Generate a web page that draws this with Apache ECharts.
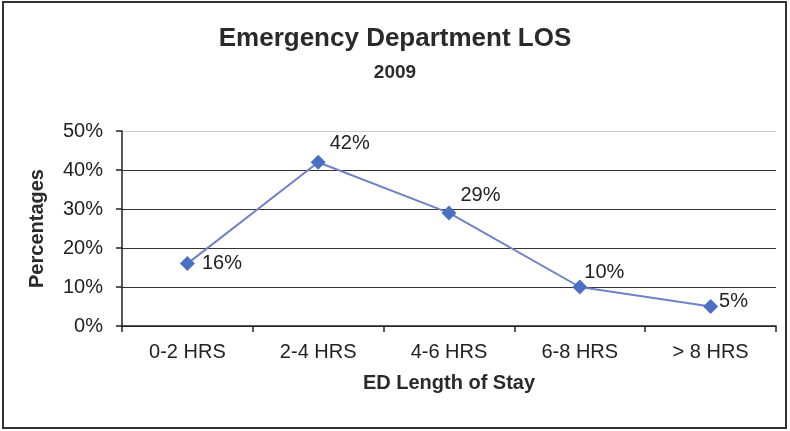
<!DOCTYPE html>
<html>
<head>
<meta charset="utf-8">
<script src="https://cdn.jsdelivr.net/npm/echarts@6/dist/echarts.min.js"></script>
<style>
  html, body { margin: 0; padding: 0; background: #fff; }
  #chart { width: 790px; height: 431px; }
</style>
</head>
<body>
<div id="chart"></div>
<script>
const categories = ['0-2 HRS', '2-4 HRS', '4-6 HRS', '6-8 HRS', '> 8 HRS'];
const losPercent = [16, 42, 29, 10, 5];
// label nudges, to sit the percent labels where the original puts them
const labelOffsets = [[2, 0], [-1, -19], [-1, -17], [-8, -15], [-4, -5]];

const chart = echarts.init(document.getElementById('chart'));
const font = 'Liberation Sans, Arial, sans-serif';

const option = {
    backgroundColor: '#fff',
    textStyle: { fontFamily: font },
    title: [
        {
            text: 'Emergency Department LOS',
            left: 'center',
            top: 21,
            textStyle: { fontSize: 26, fontWeight: 'bold', color: '#2a2a2a', fontFamily: font }
        },
        {
            text: '2009',
            left: 'center',
            top: 58,
            textStyle: { fontSize: 19, fontWeight: 'bold', color: '#2a2a2a', fontFamily: font }
        }
    ],
    graphic: [
        {
            type: 'rect',
            shape: { x: 3, y: 2, width: 783, height: 426 },
            style: { fill: 'none', stroke: '#333', lineWidth: 2 }
        }
    ],
    grid: { left: 122, right: 14, top: 131, bottom: 105 },
    xAxis: {
        type: 'category',
        data: categories,
        name: 'ED Length of Stay',
        nameLocation: 'middle',
        nameGap: 47,
        nameTextStyle: { fontSize: 20, fontWeight: 'bold', color: '#2a2a2a', fontFamily: font },
        axisLine: { lineStyle: { color: '#222', width: 1.5 } },
        axisTick: { show: true, alignWithLabel: false, length: 6, lineStyle: { color: '#222', width: 1.5 } },
        axisLabel: { fontSize: 20, color: '#222', margin: 16, fontFamily: font }
    },
    yAxis: {
        type: 'value',
        min: 0,
        max: 50,
        interval: 10,
        name: 'Percentages',
        nameLocation: 'middle',
        nameGap: 75,
        nameTextStyle: { fontSize: 20, fontWeight: 'bold', color: '#2a2a2a', fontFamily: font },
        axisLine: { show: true, lineStyle: { color: '#222', width: 1.5 } },
        axisTick: { show: true, inside: false, length: 6, lineStyle: { color: '#222', width: 1.5 } },
        axisLabel: { fontSize: 20, color: '#222', margin: 19, formatter: '{value}%', fontFamily: font },
        splitLine: {
            lineStyle: {
                color: ['#333', '#333', '#333', '#333', '#333', '#ccc'],
                width: 1.2
            }
        }
    },
    series: [
        {
            type: 'line',
            data: losPercent.map((v, i) => ({
                value: v,
                label: { offset: labelOffsets[i] }
            })),
            symbol: 'diamond',
            symbolSize: 15,
            lineStyle: { color: '#6f82c6', width: 2 },
            itemStyle: { color: '#4a70c4' },
            label: {
                show: true,
                position: 'right',
                formatter: '{c}%',
                fontSize: 20,
                color: '#222',
                fontFamily: font,
                distance: 5
            },
            z: 3
        }
    ]
};

chart.setOption(option);
</script>
</body>
</html>
